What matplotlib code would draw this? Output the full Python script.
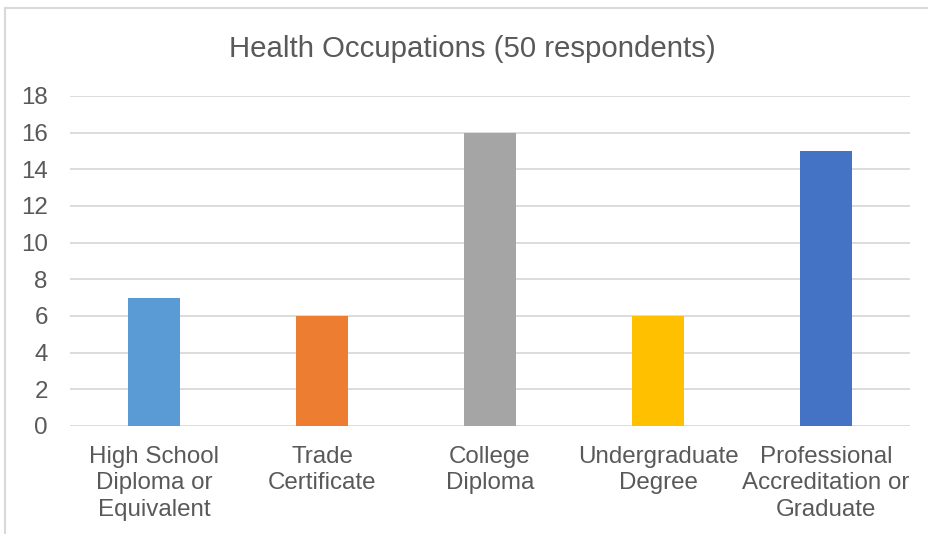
import matplotlib
matplotlib.use("Agg")
import matplotlib.pyplot as plt
from matplotlib.lines import Line2D

categories = ["High School\nDiploma or\nEquivalent", "Trade\nCertificate", "College\nDiploma",
              "Undergraduate\nDegree", "Professional\nAccreditation or\nGraduate"]
values = [7, 6, 16, 6, 15]
colors = ["#5B9BD5", "#ED7D31", "#A5A5A5", "#FFC000", "#4472C4"]
yticks = [0, 2, 4, 6, 8, 10, 12, 14, 16, 18]
title = "Health Occupations (50 respondents)"

plt.rcParams['font.family'] = ['Liberation Sans', 'DejaVu Sans']
W, H = 929, 534
fig = plt.figure(figsize=(W/100, H/100), dpi=100)
ax = fig.add_axes([70/W, (H-426)/H, 840/W, 330/H])

x = list(range(len(categories)))
ax.bar(x, values, width=0.315, color=colors, zorder=3)
ax.set_xlim(-0.5, len(categories)-0.5)
ax.set_ylim(0, 18)
ax.set_yticks(yticks)
ax.set_xticks(x)
ax.set_xticklabels(categories, linespacing=1.25)
for s in ax.spines.values():
    s.set_visible(False)
ax.grid(axis='y', color='#d9d9d9', linewidth=1.3, zorder=0)
ax.tick_params(axis='both', length=0, colors='#595959', labelsize=17.4)
ax.tick_params(axis='y', pad=16)
ax.tick_params(axis='x', pad=14.5)
for lbl in ax.get_yticklabels():
    lbl.set_color('#595959')
for lbl in ax.get_xticklabels():
    lbl.set_color('#595959')

fig.text(472/W, 1-49/H, title, ha='center', va='center', fontsize=21.2, color='#595959')

# chart border
fig.add_artist(Line2D([5/W, 1], [1-8/H, 1-8/H], color='#d9d9d9', linewidth=1.5, transform=fig.transFigure))
fig.add_artist(Line2D([5/W, 5/W], [0, 1-8/H], color='#d9d9d9', linewidth=1.5, transform=fig.transFigure))

fig.savefig("out.png", dpi=100, facecolor='white')
